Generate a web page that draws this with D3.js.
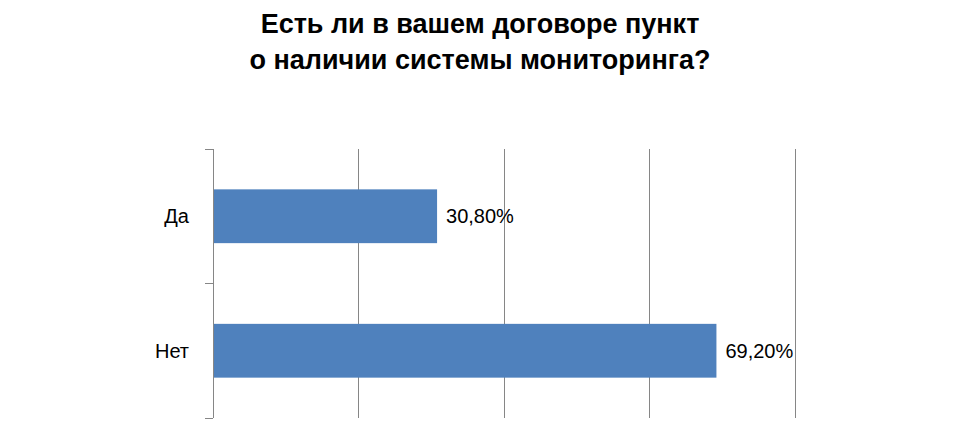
<!DOCTYPE html>
<html>
<head>
<meta charset="utf-8">
<script src="https://cdn.jsdelivr.net/npm/d3@7"></script>
<style>
  html, body { margin: 0; padding: 0; background: #fff; }
  svg { display: block; }
</style>
</head>
<body>
<svg id="chart" width="960" height="436"></svg>
<script>
const titleLines = ["Есть ли в вашем договоре пункт", "о наличии системы мониторинга?"];
const categories = ["Да", "Нет"];
const values = [30.8, 69.2];
const valueLabels = ["30,80%", "69,20%"];
const xTicks = [0, 20, 40, 60, 80];

const svg = d3.select("#chart");
const margin = { left: 213, right: 165, top: 149, bottom: 18 };
const W = 960, H = 436;

const x = d3.scaleLinear().domain([0, 80]).range([margin.left, W - margin.right]);
const y = d3.scaleBand().domain(categories).range([margin.top, H - margin.bottom])
  .paddingInner(0.6).paddingOuter(0.3);

const font = "'Liberation Sans', Arial, sans-serif";

// title
svg.append("g").selectAll("text").data(titleLines).join("text")
  .attr("x", 480)
  .attr("y", (d, i) => 33 + i * 36)
  .attr("text-anchor", "middle")
  .attr("font-family", font)
  .attr("font-weight", "bold")
  .attr("font-size", 27)
  .attr("fill", "#000")
  .text(d => d);

// gridlines (vertical)
svg.append("g").selectAll("line").data(xTicks.slice(1)).join("line")
  .attr("x1", d => x(d)).attr("x2", d => x(d))
  .attr("y1", margin.top).attr("y2", H - margin.bottom)
  .attr("stroke", "#868686").attr("stroke-width", 1)
  .attr("shape-rendering", "crispEdges");

// bars
svg.append("g").selectAll("rect").data(categories).join("rect")
  .attr("x", x(0))
  .attr("y", d => y(d))
  .attr("width", (d, i) => x(values[i]) - x(0))
  .attr("height", y.bandwidth())
  .attr("fill", "#4F81BD");

// y axis with category boundary ticks
const [r0, r1] = y.range();
const boundaries = d3.range(categories.length + 1).map(i => r0 + i * (r1 - r0) / categories.length);
const yAxisG = svg.append("g");
yAxisG.append("line")
  .attr("x1", x(0)).attr("x2", x(0))
  .attr("y1", r0).attr("y2", r1)
  .attr("stroke", "#868686").attr("shape-rendering", "crispEdges");
yAxisG.selectAll("line.tick").data(boundaries).join("line")
  .attr("class", "tick")
  .attr("x1", x(0) - 8).attr("x2", x(0))
  .attr("y1", d => d).attr("y2", d => d)
  .attr("stroke", "#868686").attr("shape-rendering", "crispEdges");

// category labels
svg.append("g").selectAll("text").data(categories).join("text")
  .attr("x", x(0) - 24)
  .attr("y", d => y(d) + y.bandwidth() / 2)
  .attr("dy", "0.36em")
  .attr("text-anchor", "end")
  .attr("font-family", font)
  .attr("font-size", 20)
  .attr("fill", "#000")
  .text(d => d);

// value labels
svg.append("g").selectAll("text").data(categories).join("text")
  .attr("x", (d, i) => x(values[i]) + 9)
  .attr("y", d => y(d) + y.bandwidth() / 2)
  .attr("dy", "0.36em")
  .attr("font-family", font)
  .attr("font-size", 20)
  .attr("fill", "#000")
  .text((d, i) => valueLabels[i]);
</script>
</body>
</html>
